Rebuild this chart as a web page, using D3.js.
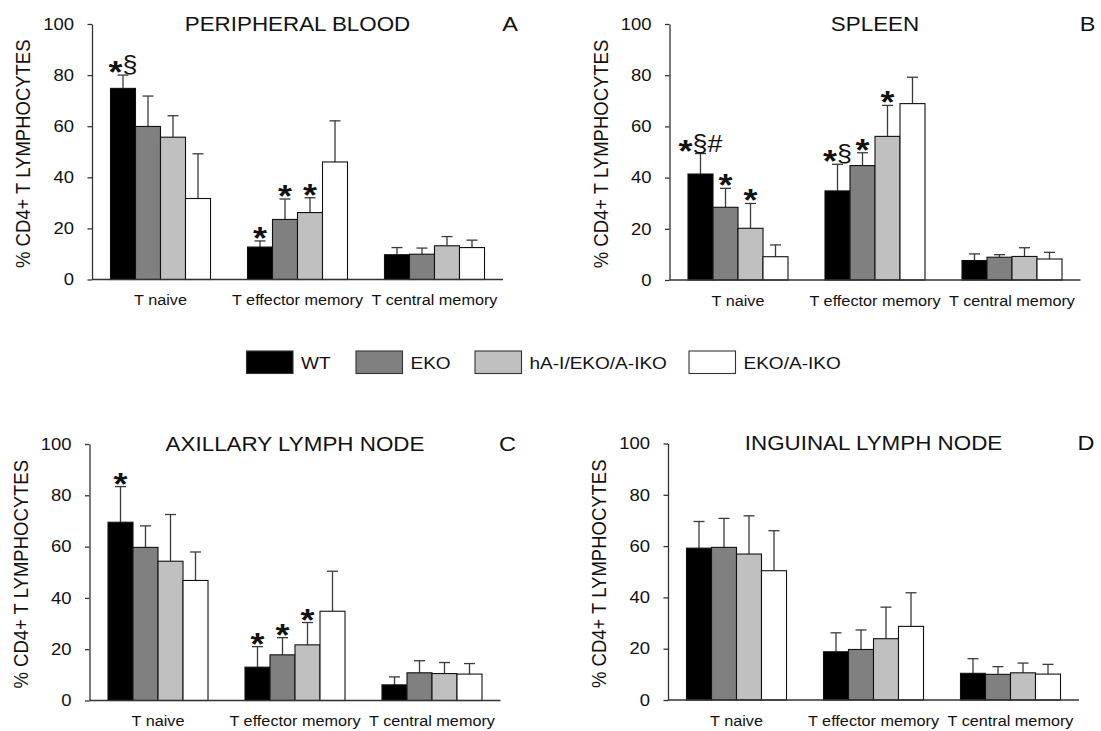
<!DOCTYPE html>
<html lang="en">

<head>
    <meta charset="UTF-8">
    <title>CD4+ T lymphocyte subsets</title>
    <style>
        body { margin: 0; background: #fff; }
        text { font-family: 'Liberation Sans', Arial, sans-serif; fill: #111; }
    </style>
</head>

<body>
    <script type='text/javascript' src='https://d3js.org/d3.v7.min.js'></script>

    <script>
        // categories and groups
        const categories = ['T naive', 'T effector memory', 'T central memory'];
        const groups = ['WT', 'EKO', 'hA-I/EKO/A-IKO', 'EKO/A-IKO'];
        const yTicks = [0, 20, 40, 60, 80, 100];

        // [category][group] means and upper error (sd)
        const bloodMean = [[74.8, 59.9, 55.7, 31.7], [12.7, 23.5, 26.2, 46.0], [9.7, 9.9, 13.2, 12.5]];
        const bloodErr = [[5.2, 11.9, 8.4, 17.5], [2.4, 8.0, 5.8, 16.1], [2.8, 2.4, 3.6, 2.9]];
        const spleenMean = [[41.4, 28.4, 20.2, 9.1], [34.8, 44.7, 56.1, 68.9], [7.6, 8.9, 9.2, 8.2]];
        const spleenErr = [[8.0, 7.4, 9.7, 4.6], [10.4, 5.0, 12.1, 10.3], [2.6, 1.0, 3.4, 2.6]];
        const axillaryMean = [[69.5, 59.7, 54.3, 46.8], [13.0, 17.8, 21.7, 34.8], [6.1, 10.8, 10.5, 10.3]];
        const axillaryErr = [[13.9, 8.4, 18.2, 11.1], [8.0, 6.7, 8.7, 15.6], [3.1, 4.7, 4.3, 4.1]];
        const inguinalMean = [[59.2, 59.5, 56.9, 50.4], [18.8, 19.7, 23.9, 28.7], [10.4, 10.0, 10.6, 10.1]];
        const inguinalErr = [[10.4, 11.3, 14.9, 15.6], [7.4, 7.6, 12.3, 13.1], [5.7, 3.0, 3.8, 3.8]];

        // significance marks: [category, group, text]
        const bloodSig = [[0, 0, '*§'], [1, 0, '*'], [1, 1, '*'], [1, 2, '*']];
        const spleenSig = [[0, 0, '*§#'], [0, 1, '*'], [0, 2, '*'], [1, 0, '*§'], [1, 1, '*'], [1, 2, '*']];
        const axillarySig = [[0, 0, '*'], [1, 0, '*'], [1, 1, '*'], [1, 2, '*']];
        const inguinalSig = [];

        const titles = ['PERIPHERAL BLOOD', 'SPLEEN', 'AXILLARY LYMPH NODE', 'INGUINAL LYMPH NODE'];
        const letters = ['A', 'B', 'C', 'D'];

        const fills = ['#000000', '#808080', '#c0c0c0', '#ffffff'];
        const SX = 1.12; // the original text is a bit wider than it is tall

        // panel boxes (plot area)
        const panelBox = [
            { left: 92, top: 24, bottom: 279.5 },
            { left: 669.5, top: 24, bottom: 280 },
            { left: 89.5, top: 444, bottom: 700.5 },
            { left: 668, top: 443.5, bottom: 700 }
        ];
        const plotW = 411;

        const svg = d3.select('body').append('svg').attr('width', 1101).attr('height', 731);

        function label(g, x, y, str, size, anchor) {
            return g.append('text')
                .attr('transform', `translate(${x},${y}) scale(${SX},1)`)
                .style('font-size', size + 'px')
                .attr('text-anchor', anchor || 'middle')
                .text(str);
        }

        function drawPanel(i, means, errs, sigs) {
            const box = panelBox[i];
            const g = svg.append('g').attr('transform', `translate(${box.left},0)`);

            const y = d3.scaleLinear().domain([0, 100]).range([box.bottom, box.top]);
            const x0 = d3.scaleBand().domain(categories).range([0, plotW]).paddingInner(0.27).paddingOuter(0.135);
            const x1 = d3.scaleBand().domain(groups).range([0, x0.bandwidth()]);

            const rows = [];
            categories.forEach((c, ci) => {
                groups.forEach((gr, gi) => {
                    rows.push({ c: c, g: gr, gi: gi, v: means[ci][gi], e: errs[ci][gi] });
                });
            });

            // error bars first, so the bar covers the lower part
            const eb = g.selectAll('.err').data(rows).enter().append('g').attr('class', 'err')
                .attr('transform', d => `translate(${x0(d.c) + x1(d.g) + x1.bandwidth() / 2},0)`);
            eb.append('line')
                .attr('y1', d => y(d.v)).attr('y2', d => y(d.v + d.e))
                .attr('stroke', '#3a3a3a').attr('stroke-width', 1.3);
            eb.append('line')
                .attr('x1', -5.5).attr('x2', 5.5)
                .attr('y1', d => y(d.v + d.e)).attr('y2', d => y(d.v + d.e))
                .attr('stroke', '#3a3a3a').attr('stroke-width', 1.3);

            g.selectAll('.bar').data(rows).enter().append('rect').attr('class', 'bar')
                .attr('x', d => x0(d.c) + x1(d.g))
                .attr('y', d => y(d.v))
                .attr('width', x1.bandwidth())
                .attr('height', d => y(0) - y(d.v))
                .attr('fill', d => fills[d.gi])
                .attr('stroke', '#111').attr('stroke-width', 1.1);

            // y axis
            const ax = g.append('g').call(d3.axisLeft(y).tickValues(yTicks).tickSize(4.5).tickSizeOuter(0).tickPadding(11.6));
            ax.select('.domain').attr('stroke', '#333').attr('stroke-width', 1.3);
            ax.selectAll('.tick line').attr('stroke', '#333').attr('stroke-width', 1.3);
            ax.selectAll('.tick text')
                .attr('transform', `scale(${SX},1)`)
                .style('font-size', '16.5px')
                .style('fill', '#111');

            // x axis baseline
            g.append('line').attr('x1', 0).attr('x2', plotW)
                .attr('y1', y(0)).attr('y2', y(0))
                .attr('stroke', '#333').attr('stroke-width', 1.3);

            categories.forEach(c => {
                label(g, x0(c) + x0.bandwidth() / 2, box.bottom + 25.5, c, 14.5);
            });

            // y title
            g.append('text')
                .attr('transform', `translate(-69,${(box.top + box.bottom) / 2 + 2}) scale(${SX},1) rotate(-90)`)
                .style('font-size', '18.5px')
                .attr('text-anchor', 'middle')
                .attr('dy', '0.35em')
                .text('% CD4+ T LYMPHOCYTES');

            label(g, plotW / 2, box.top + 6.5, titles[i], 20);
            label(g, 418, box.top + 6.5, letters[i], 21);

            // significance marks
            sigs.forEach(s => {
                const c = categories[s[0]], gr = groups[s[1]];
                const cx = x0(c) + x1(gr) + x1.bandwidth() / 2;
                const top = y(means[s[0]][s[1]] + errs[s[0]][s[1]]);
                const t = label(g, cx, top - 2, '', 24);
                let shift = 0;
                s[2].split('').forEach(ch => {
                    const ts = t.append('tspan').text(ch);
                    if (ch === '*') {
                        ts.style('font-size', '32px').attr('font-weight', 'bold').attr('dy', 10 - shift);
                        shift = 10;
                    } else {
                        ts.attr('dy', -shift);
                        shift = 0;
                    }
                });
            });
        }

        drawPanel(0, bloodMean, bloodErr, bloodSig);
        drawPanel(1, spleenMean, spleenErr, spleenSig);
        drawPanel(2, axillaryMean, axillaryErr, axillarySig);
        drawPanel(3, inguinalMean, inguinalErr, inguinalSig);

        // legend
        const legendX = [246.5, 356, 475, 689];
        const lg = svg.append('g').attr('transform', 'translate(0,351)');
        groups.forEach((gr, i) => {
            lg.append('rect').attr('x', legendX[i]).attr('y', 0).attr('width', 46.5).attr('height', 22.5)
                .attr('fill', fills[i]).attr('stroke', '#333').attr('stroke-width', 1.1);
            label(lg, legendX[i] + 54.5, 17.5, gr, 17, 'start');
        });
    </script>
</body>

</html>
